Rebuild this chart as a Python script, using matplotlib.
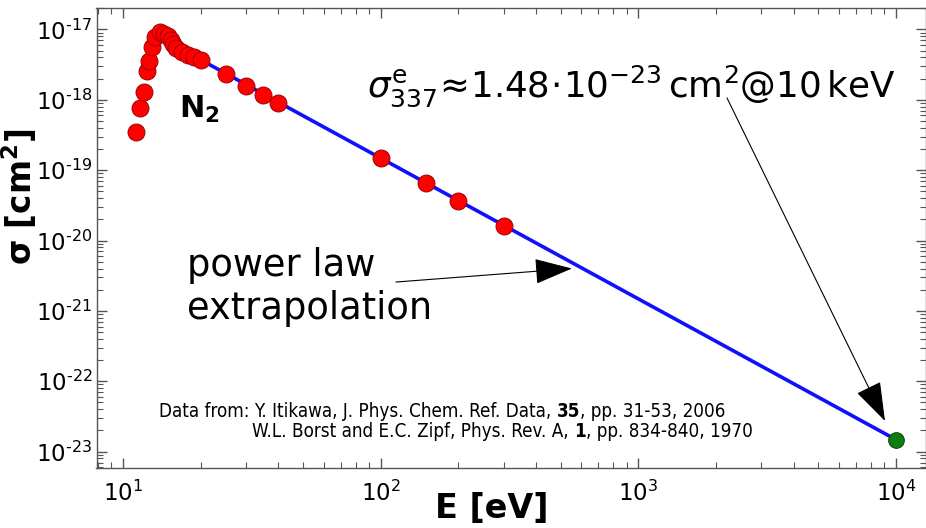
import matplotlib
matplotlib.use("Agg")
import matplotlib.pyplot as plt
from matplotlib import font_manager
from matplotlib.transforms import offset_copy
from matplotlib.ticker import LogLocator, FuncFormatter, NullFormatter
import numpy as np

# ---- data ----
energy_eV = [11.2, 11.6, 12.06, 12.4, 12.65, 13.0, 13.3, 13.97, 14.46, 14.9,
             15.3, 15.7, 16.1, 17.0, 17.9, 18.9, 20.0, 25.0, 30.0, 35.0, 40.0,
             100.0, 150.0, 200.0, 300.0]
sigma_cm2 = [3.5e-19, 7.6e-19, 1.3e-18, 2.56e-18, 3.6e-18, 5.7e-18, 7.7e-18,
             9.25e-18, 8.7e-18, 7.95e-18, 7.05e-18, 6.1e-18, 5.4e-18, 4.7e-18,
             4.3e-18, 4.0e-18, 3.66e-18, 2.3e-18, 1.58e-18, 1.17e-18, 8.97e-19,
             1.49e-19, 6.56e-20, 3.64e-20, 1.6e-20]
fit_E = [20.0, 1.0e4]
fit_sigma = [3.7e-18, 1.48e-23]
extrap_E = [1.0e4]
extrap_sigma = [1.48e-23]
x_ticks = [10, 100, 1000, 10000]
y_ticks = [1e-23, 1e-22, 1e-21, 1e-20, 1e-19, 1e-18, 1e-17]

plt.rcParams['font.family'] = ['DejaVu Sans']
plt.rcParams['mathtext.fontset'] = 'dejavusans'

fig = plt.figure(figsize=(9.26, 5.28), dpi=100)
W, H = 926, 528
ax = fig.add_axes([96.5 / W, 1 - 468 / H, (926 - 96.5) / W, (468 - 8) / H])
ax.set_xscale('log')
ax.set_yscale('log')
ax.set_xlim(7.89, 13070)
ax.set_ylim(5.86e-24, 2.01e-17)

ax.plot(fit_E, fit_sigma, color='#1010ff', lw=2.6, zorder=2, solid_capstyle='butt')
ax.plot(energy_eV, sigma_cm2, 'o', ms=12.2, mfc='#ff0000', mec='#a00000', mew=0.7, zorder=3)
ax.plot(extrap_E, extrap_sigma, 'o', ms=11.3, mfc='#0d7d0d', mec='#064806', mew=0.7, zorder=3)

for s in ax.spines.values():
    s.set_color('#555555')
    s.set_linewidth(1.0)

ax.set_xticks(x_ticks)
ax.set_yticks(y_ticks)
ax.xaxis.set_minor_locator(LogLocator(base=10, subs=np.arange(2, 10), numticks=20))
ax.yaxis.set_minor_locator(LogLocator(base=10, subs=np.arange(2, 10), numticks=20))
ax.xaxis.set_minor_formatter(NullFormatter())
ax.yaxis.set_minor_formatter(NullFormatter())

def fmt(v, pos):
    k = int(round(np.log10(v)))
    if k < 0:
        return r'$10^{\text{-}%d}$' % (-k)
    return r'$10^{%d}$' % k

ax.xaxis.set_major_formatter(FuncFormatter(fmt))
ax.yaxis.set_major_formatter(FuncFormatter(fmt))
ax.tick_params(which='both', direction='in', top=True, right=True, color='#555555')
ax.tick_params(which='major', length=7, width=1, labelsize=16.5, pad=3)
ax.tick_params(which='minor', length=4, width=0.8)
ax.tick_params(axis='x', which='major', pad=9)

ax.set_xlabel('E [eV]', fontsize=24, fontweight='bold', va='top')
ax.xaxis.set_label_coords(0.4768, -0.052)
ax.set_ylabel(r'σ [cm$^\mathbf{2}$]', fontsize=23.5, fontweight='bold')
ax.yaxis.set_label_coords(-0.0695, 0.59)

# N2 label
ax.text(0.10, 0.78, r'N$_\mathbf{2}$', transform=ax.transAxes, fontsize=22,
        fontweight='bold', ha='left', va='center')

# top annotation
ax.text(0.326, 0.829, r'$\sigma^{\mathrm{e}}_{337}\!\approx\!1.48\!\cdot\!10^{-23}\,\mathrm{cm}^{2}$@$10\,\mathrm{keV}$',
        transform=ax.transAxes, fontsize=25.7, ha='left', va='center')
ax.annotate('', xy=(9060, 2.73e-23), xytext=(2208, 1.06e-18),
            arrowprops=dict(arrowstyle='-|>,head_length=0.5,head_width=0.17',
                            mutation_scale=50, color='black', lw=0.8,
                            shrinkA=0, shrinkB=0))

# power law annotation
ax.text(0.109, 0.393, 'power law\nextrapolation', transform=ax.transAxes,
        fontsize=26.5, ha='left', va='center', linespacing=1.22)
ax.annotate('', xy=(552, 4.0e-21), xytext=(114.6, 2.57e-21),
            arrowprops=dict(arrowstyle='-|>,head_length=0.5,head_width=0.17',
                            mutation_scale=48, color='black', lw=0.8,
                            shrinkA=0, shrinkB=0))

# citation with bold parts
def find_cond():
    for fam, st in [('DejaVu Sans', 'condensed'), ('Liberation Sans Narrow', 'normal')]:
        fp = font_manager.FontProperties(family=fam, stretch=st)
        try:
            path = font_manager.findfont(fp, fallback_to_default=False)
            if 'Condensed' in path or 'Narrow' in path:
                return fam, st
        except Exception:
            pass
    return 'DejaVu Sans', 'normal'

cfam, cstretch = find_cond()
renderer = fig.canvas.get_renderer()

def rich(x, y, parts, size):
    trans = ax.transAxes
    t = None
    for s, w in parts:
        t = ax.text(x, y, s, transform=trans, fontsize=size, family=cfam,
                    fontstretch=cstretch, fontweight=w, va='baseline', ha='left')
        ex = t.get_window_extent(renderer=renderer)
        trans = offset_copy(t.get_transform(), fig=fig, x=ex.width, units='dots')

rich(0.0755, 0.111, [('Data from: Y. Itikawa, J. Phys. Chem. Ref. Data, ', 'normal'),
                     ('35', 'bold'), (', pp. 31-53, 2006', 'normal')], 13.5)
rich(0.1875, 0.068, [('W.L. Borst and E.C. Zipf, Phys. Rev. A, ', 'normal'),
                     ('1', 'bold'), (', pp. 834-840, 1970', 'normal')], 13.5)

fig.savefig('out.png', dpi=100)
